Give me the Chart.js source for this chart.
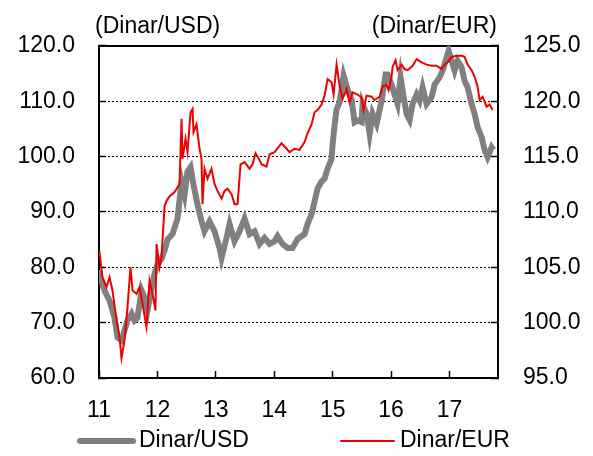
<!DOCTYPE html>
<html>
<head>
<meta charset="utf-8">
<script src="https://cdn.jsdelivr.net/npm/chart.js@4/dist/chart.umd.min.js"></script>
<style>
html,body{margin:0;padding:0;background:#fff;}
#wrap{width:593px;height:456px;position:relative;}
</style>
</head>
<body>
<div id="wrap"><canvas id="c"></canvas></div>
<script>
// ---- data ----
const seriesNames = ['Dinar/USD', 'Dinar/EUR'];
const axisTitles = ['(Dinar/USD)', '(Dinar/EUR)'];
const xTickYears = [11, 12, 13, 14, 15, 16, 17];

const usdYears = [11.000,11.009,11.094,11.180,11.265,11.317,11.385,11.437,11.488,11.557,11.608,11.659,11.728,11.779,11.830,11.899,11.950,12.002,12.070,12.122,12.173,12.259,12.344,12.413,12.464,12.515,12.567,12.618,12.687,12.755,12.806,12.892,12.978,13.063,13.098,13.183,13.235,13.320,13.406,13.491,13.577,13.663,13.748,13.834,13.919,14.005,14.056,14.142,14.228,14.313,14.399,14.519,14.570,14.639,14.690,14.741,14.810,14.861,14.913,14.981,14.998,15.033,15.067,15.118,15.152,15.187,15.255,15.324,15.375,15.426,15.495,15.512,15.580,15.632,15.683,15.752,15.837,15.906,15.940,16.008,16.060,16.111,16.163,16.197,16.265,16.317,16.368,16.437,16.488,16.539,16.608,16.693,16.745,16.830,16.882,16.950,16.985,17.036,17.087,17.139,17.207,17.258,17.310,17.378,17.430,17.481,17.550,17.601,17.652,17.721,17.755];
const usdValues = [79.5,78.4,75.8,74.0,70.9,67.3,66.8,68.6,70.4,71.6,70.4,70.9,75.8,74.5,72.2,76.3,78.8,80.6,81.5,83.0,85.0,86.0,88.8,95.5,93.1,97.3,98.1,94.9,91.3,88.3,86.5,88.3,86.5,83.5,81.7,85.3,87.8,84.7,86.5,88.8,86.0,86.5,84.2,85.3,84.2,84.7,85.6,84.2,83.5,83.5,85.1,86.0,87.8,89.6,91.9,94.2,95.5,96.0,97.8,99.6,102.1,105.7,108.5,109.8,112.1,114.6,112.1,110.3,106.2,106.5,106.2,109.5,107.7,104.1,107.7,105.9,110.1,114.8,114.8,113.0,111.2,109.5,114.3,111.9,107.7,106.6,109.5,111.2,110.1,112.5,109.5,110.7,113.0,114.3,115.5,117.9,119.1,117.3,115.5,117.3,116.1,113.7,112.5,109.5,107.7,105.3,103.5,101.2,99.9,101.7,101.2];

const eurYears = [11.000,11.009,11.060,11.128,11.180,11.231,11.300,11.351,11.385,11.437,11.488,11.539,11.574,11.642,11.693,11.745,11.813,11.865,11.916,11.967,11.985,12.036,12.070,12.122,12.156,12.207,12.293,12.378,12.413,12.430,12.481,12.515,12.567,12.601,12.618,12.669,12.721,12.755,12.772,12.806,12.858,12.926,12.978,13.029,13.098,13.149,13.200,13.269,13.320,13.372,13.423,13.491,13.577,13.628,13.680,13.748,13.782,13.868,13.919,14.005,14.125,14.211,14.262,14.348,14.433,14.519,14.570,14.639,14.690,14.741,14.810,14.861,14.913,14.981,15.016,15.067,15.118,15.170,15.238,15.289,15.341,15.426,15.495,15.529,15.580,15.666,15.717,15.803,15.854,15.923,15.957,16.008,16.026,16.077,16.111,16.180,16.231,16.283,16.368,16.437,16.522,16.608,16.693,16.779,16.865,16.916,16.967,17.036,17.122,17.207,17.258,17.310,17.378,17.430,17.481,17.515,17.567,17.635,17.687,17.738];
const eurValues = [106.5,106.3,104.1,103.2,104.1,102.9,100.2,98.7,96.8,98.4,101.4,105.0,102.9,102.6,103.2,101.7,99.6,103.8,102.6,101.1,107.1,105.0,105.9,110.5,111.0,111.4,111.8,112.5,118.4,114.8,116.6,115.4,119.0,119.3,117.2,117.9,115.7,114.8,110.7,113.9,113.0,113.9,112.5,111.9,111.2,111.9,112.1,111.6,110.7,110.7,114.3,114.5,113.9,114.3,115.3,114.7,114.3,114.1,115.2,115.4,116.2,115.7,115.4,115.7,115.6,116.3,117.1,117.9,119.0,119.2,119.7,120.5,122.0,121.7,120.6,123.3,121.4,120.2,121.1,119.9,120.8,120.6,120.3,119.2,120.5,120.4,120.1,120.4,121.3,121.5,121.0,122.2,123.1,123.7,122.8,123.3,122.9,122.8,123.2,123.8,123.5,123.3,123.2,123.2,122.9,123.3,123.5,124.0,124.1,124.1,124.0,123.3,122.8,122.2,121.3,120.1,120.4,119.5,119.7,119.2];

const FONT = '"Liberation Sans", Arial, sans-serif';
const FS = 23;

const decor = {
  id: 'decor',
  afterDraw(chart) {
    const {ctx, chartArea: a} = chart;
    ctx.save();
    ctx.font = FS + 'px ' + FONT;
    ctx.fillStyle = '#000';
    ctx.textBaseline = 'middle';
    ctx.textAlign = 'left';
    ctx.fillText(axisTitles[0], a.left - 4, a.top - 19);
    ctx.textAlign = 'right';
    ctx.fillText(axisTitles[1], a.right - 1, a.top - 19);
    // legend
    const ly = 441;
    const starts = [80, 341];
    chart.data.datasets.forEach((ds, i) => {
      const x0 = starts[i];
      ctx.beginPath();
      ctx.strokeStyle = ds.borderColor;
      ctx.lineWidth = ds.borderWidth;
      ctx.lineCap = 'round';
      ctx.moveTo(x0, ly);
      ctx.lineTo(x0 + 53, ly);
      ctx.stroke();
      ctx.fillStyle = '#000';
      ctx.textAlign = 'left';
      ctx.fillText(ds.label, x0 + 59, ly);
    });
    ctx.restore();
  }
};

const gridColor = (lo, hi) => (c) => (c.tick && (c.tick.value === lo || c.tick.value === hi)) ? 'rgba(0,0,0,0)' : '#000';

new Chart(document.getElementById('c'), {
  type: 'line',
  data: {
    datasets: [
      {
        label: seriesNames[0],
        data: usdYears.map((x, i) => ({x, y: usdValues[i]})),
        borderColor: '#808080',
        borderWidth: 6,
        pointRadius: 0,
        tension: 0,
        yAxisID: 'y',
        order: 2
      },
      {
        label: seriesNames[1],
        data: eurYears.map((x, i) => ({x, y: eurValues[i]})),
        borderColor: '#ee0000',
        borderWidth: 2,
        pointRadius: 0,
        tension: 0,
        yAxisID: 'y2',
        order: 1
      }
    ]
  },
  options: {
    responsive: true,
    maintainAspectRatio: false,
    animation: false,
    devicePixelRatio: 1,
    layout: {padding: {top: 43, left: 0, right: 0, bottom: 0}},
    plugins: {legend: {display: false}, tooltip: {enabled: false}},
    scales: {
      x: {
        type: 'linear',
        position: 'bottom',
        min: 11, max: 17.83,
        afterBuildTicks: (s) => { s.ticks = xTickYears.map(v => ({value: v})); },
        afterFit: (s) => { s.height = 78; },
        ticks: {color: '#000', font: {family: FONT, size: FS}, padding: 26, maxRotation: 0, autoSkip: false,
                callback: (v) => String(v)},
        grid: {drawOnChartArea: false, drawTicks: true, tickLength: -7, tickColor: '#000', tickWidth: 1.5, tickBorderDash: []},
        border: {display: true, color: '#000', width: 2}
      },
      xTop: {
        type: 'linear',
        position: 'top',
        min: 11, max: 17.83,
        afterFit: (s) => { s.height = 0; },
        ticks: {display: false},
        grid: {display: false, drawTicks: false},
        border: {display: true, color: '#000', width: 2}
      },
      y: {
        type: 'linear',
        position: 'left',
        min: 60, max: 120,
        ticks: {stepSize: 10, color: '#000', font: {family: FONT, size: FS}, padding: 31,
                callback: (v) => Number(v).toFixed(1)},
        afterFit: (s) => { s.width = 99; },
        grid: {color: gridColor(60, 120), lineWidth: 1, drawTicks: true, tickLength: -7, tickColor: '#000', tickWidth: 1.5, tickBorderDash: []},
        border: {display: true, color: '#000', width: 2, dash: [2, 2]}
      },
      y2: {
        type: 'linear',
        position: 'right',
        min: 95, max: 125,
        ticks: {stepSize: 5, color: '#000', font: {family: FONT, size: FS}, padding: 32,
                callback: (v) => Number(v).toFixed(1)},
        afterFit: (s) => { s.width = 95; },
        grid: {drawOnChartArea: false, drawTicks: true, tickLength: -7, tickColor: '#000', tickWidth: 1.5, tickBorderDash: []},
        border: {display: true, color: '#000', width: 2}
      }
    }
  },
  plugins: [decor]
});
</script>
</body>
</html>
